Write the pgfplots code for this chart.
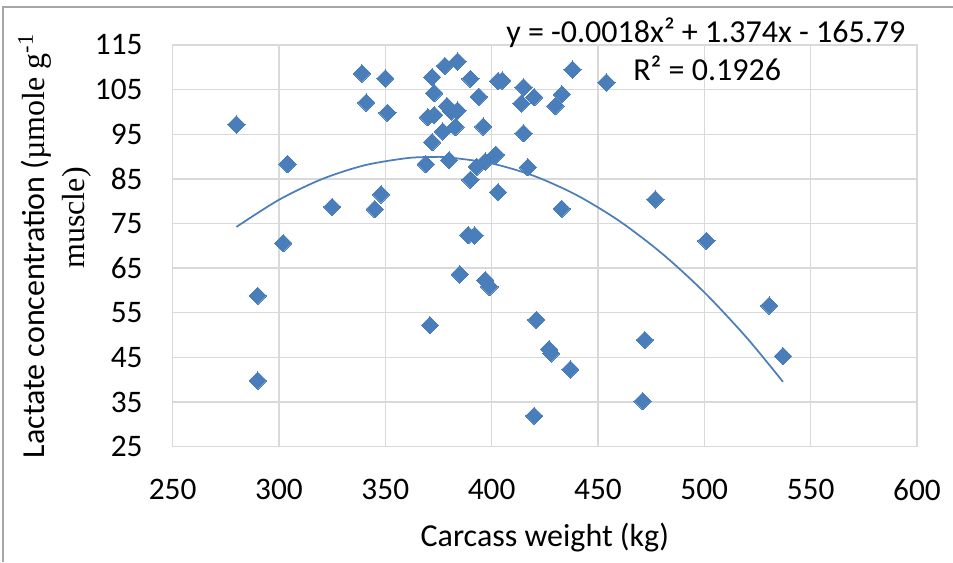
\documentclass[border=0pt]{standalone}
\usepackage{pgfplots}
\pgfplotsset{compat=1.18}
\usepackage{fontspec}
\setmainfont{Carlito}
\newfontfamily\timesfont{Liberation Serif}
\definecolor{mblue}{RGB}{74,126,187}
\definecolor{gridgray}{RGB}{217,217,217}
\begin{document}
\fontsize{24pt}{28pt}\selectfont
\begin{tikzpicture}[x=0.75pt,y=0.75pt]
\useasboundingbox (0,0) rectangle (953,562);
\draw[black!35, line width=0.9pt] (3,0) -- (3,555) -- (953,555);
\begin{axis}[
  at={(129.5pt,86.5pt)}, anchor=south west,
  scale only axis, width=558.2pt, height=301.3pt,
  xmin=250, xmax=600, ymin=25, ymax=115,
  xtick={250,300,...,600}, ytick={25,35,...,115},
  grid=major, major grid style={gridgray, line width=1pt},
  axis line style={gridgray, line width=1pt},
  major tick length=0pt,
  /pgf/number format/assume math mode=true,
  tick label style={font=\fontsize{23.5pt}{27pt}\selectfont},
  yticklabel style={xshift=-14.4pt},
  xticklabel style={yshift=-16pt},
  xlabel={Carcass weight (kg)},
  xlabel style={at={(axis description cs:0.5,0)}, anchor=center, yshift=-68pt, font=\fontsize{24pt}{28pt}\selectfont},
  clip=false,
]
\addplot[only marks, mark=square*, mark size=4.6pt, mark options={rotate=45, fill=mblue, draw=mblue, line width=0pt}] coordinates {
(280,97.2) (304,88.3) (325,78.7) (345,78.2) (348,81.5) (339,108.6) (350,107.5) (341,102.1) (351,99.8)
(372,107.8) (378,110.3) (384,111.3) (390,107.4) (403,106.9) (405,107.0) (415,105.5) (438,109.5) (454,106.6)
(373,104.2) (394,103.4) (414,101.9) (420,103.3) (433,103.9) (430,101.3) (370,98.8) (373,99.3) (379,101.3)
(381,100.1) (384,100.3) (377,95.6) (383,96.6) (396,96.7) (415,95.2) (372,93.2) (369,88.3) (380,89.2)
(390,84.8) (393,87.7) (397,88.9) (402,90.4) (403,82.0) (417,87.6) (433,78.3) (389,72.4) (392,72.3)
(477,80.4) (302,70.6) (290,58.8) (290,39.8) (371,52.2) (385,63.6) (397,62.3) (399,60.8) (421,53.4)
(427,46.8) (428,45.9) (437,42.3) (420,31.9) (472,48.9) (471,35.2) (501,71.1) (530.5,56.6) (537,45.3)
};
\addplot[mblue, line width=1.3pt, smooth, no marks] coordinates {
(280,74.24) (300,80.31) (320,84.90) (340,88.01) (360,89.63) (372,89.90) (380,89.78) (400,88.45)
(420,85.64) (440,81.35) (460,75.57) (480,68.32) (500,59.59) (520,49.38) (537,39.53)
};
\end{axis}
\node[anchor=base west, inner sep=0pt] at (506,519.3) {y = -0.0018x² + 1.374x - 165.79};
\node[anchor=base west, inner sep=0pt] at (633,481) {R² = 0.1926};
\node[rotate=90, anchor=center, inner sep=0pt] at (35,316) {Lactate concentration ({\timesfont µmole g\textsuperscript{-1}}};
\node[rotate=90, anchor=center, inner sep=0pt] at (77,344) {\timesfont muscle)};
\end{tikzpicture}
\end{document}
